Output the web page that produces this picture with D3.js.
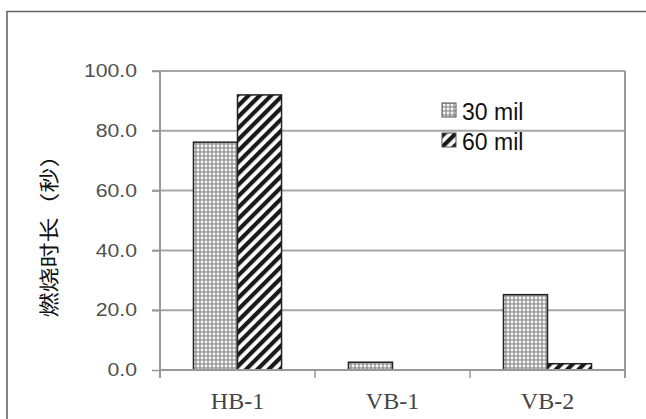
<!DOCTYPE html>
<html><head><meta charset="utf-8">
<script src="https://cdn.jsdelivr.net/npm/d3@7"></script>
<style>html,body{margin:0;padding:0;background:#fff;}svg{display:block;}</style>
</head><body>
<script>
const categories = ["HB-1", "VB-1", "VB-2"];
const seriesNames = ["30 mil", "60 mil"];
const values30 = [76.2, 2.6, 25.2];
const values60 = [92.0, 0.0, 2.1];
const yTicks = [0, 20, 40, 60, 80, 100];
const yTitle = "燃烧时长（秒）";

const W = 646, H = 419;
const svg = d3.select("body").append("svg").attr("width", W).attr("height", H);
const defs = svg.append("defs");

// dotted grid pattern
const p1 = defs.append("pattern").attr("id", "pat30").attr("patternUnits", "userSpaceOnUse")
  .attr("width", 4).attr("height", 4);
p1.append("rect").attr("width", 4).attr("height", 4).attr("fill", "#9a9a9a");
p1.append("circle").attr("cx", 2).attr("cy", 2).attr("r", 1.45).attr("fill", "#f6f6f6");
// diagonal stripes
const p2 = defs.append("pattern").attr("id", "pat60").attr("patternUnits", "userSpaceOnUse")
  .attr("width", 8).attr("height", 8).attr("patternTransform", "rotate(45)");
p2.append("rect").attr("width", 8).attr("height", 8).attr("fill", "#fff");
p2.append("rect").attr("width", 4.2).attr("height", 8).attr("fill", "#1a1a1a");

// outer frame
svg.append("path").attr("d", "M646,11.5H7V419").attr("fill", "none").attr("stroke", "#666").attr("stroke-width", 1.6);

const x0 = 160, x1 = 625, yB = 370, yT = 71;
const x = d3.scaleBand().domain(categories).range([x0, x1]).paddingInner(0).paddingOuter(0);
const xs = d3.scaleBand().domain(seriesNames).range([0, x.bandwidth()]).paddingInner(0).paddingOuter(0.76);
const y = d3.scaleLinear().domain([0, 100]).range([yB, yT]);

// gridlines
svg.append("g").selectAll("line").data(yTicks.filter(d => d > 0)).join("line")
  .attr("x1", x0 - 8).attr("x2", x1).attr("y1", d => y(d)).attr("y2", d => y(d))
  .attr("stroke", "#a6a6a6").attr("stroke-width", 2);

// y axis
const sx = 1.18;
const ya = svg.append("g").attr("transform", `translate(${x0},0)`)
  .call(d3.axisLeft(y).tickValues(yTicks).tickFormat(d3.format(".1f")).tickSize(8).tickPadding(15));
ya.select(".domain").attr("stroke", "#999").attr("stroke-width", 2).attr("d", `M0,${yT}V${yB + 8}`);
ya.selectAll(".tick line").attr("stroke", "#999").attr("stroke-width", 1.5);
ya.selectAll(".tick text").attr("fill", "#505050").attr("font-family", "Liberation Sans, Arial, sans-serif")
  .attr("font-size", 18).attr("x", -23 / sx).attr("transform", `scale(${sx},1)`);

// right border
svg.append("line").attr("x1", x1).attr("x2", x1).attr("y1", yT).attr("y2", yB + 8)
  .attr("stroke", "#999").attr("stroke-width", 2);

// bars
const data = categories.map((c, i) => ({ c, vals: [values30[i], values60[i]] }));
const g = svg.append("g").selectAll("g").data(data).join("g").attr("transform", d => `translate(${x(d.c)},0)`);
g.selectAll("rect").data(d => d.vals.map((v, j) => ({ s: seriesNames[j], v, j }))).join("rect")
  .filter(d => d.v > 0)
  .attr("x", d => xs(d.s)).attr("width", xs.bandwidth())
  .attr("y", d => y(d.v)).attr("height", d => yB - y(d.v))
  .attr("fill", d => d.j === 0 ? "url(#pat30)" : "url(#pat60)")
  .attr("stroke", "#222").attr("stroke-width", 1.5);

// x axis
const xa = svg.append("g").attr("transform", `translate(0,${yB})`)
  .call(d3.axisBottom(x).tickSize(0).tickPadding(22));
xa.select(".domain").attr("stroke", "#999").attr("stroke-width", 2).attr("d", `M${x0},0H${x1}`);
xa.selectAll(".tick text").attr("fill", "#444").attr("font-family", "Liberation Serif, Times New Roman, serif")
  .attr("font-size", 24).attr("dy", "0.71em");
svg.append("g").selectAll("line").data(categories.slice(1)).join("line")
  .attr("x1", d => x(d)).attr("x2", d => x(d)).attr("y1", yB).attr("y2", yB + 8)
  .attr("stroke", "#999").attr("stroke-width", 1.5);

// y title
svg.append("text").attr("transform", "translate(48.5,230) rotate(-90) scale(1.25,1)")
  .attr("text-anchor", "middle").attr("dominant-baseline", "central")
  .attr("font-family", "'Noto Sans CJK SC', sans-serif")
  .attr("font-size", 20).attr("fill", "#111").text(yTitle);

// legend
const lg = svg.append("g").selectAll("g").data(seriesNames).join("g")
  .attr("transform", (d, i) => `translate(442,${103 + i * 30})`);
lg.append("rect").attr("width", 14).attr("height", 14)
  .attr("fill", (d, i) => i === 0 ? "url(#pat30)" : "url(#pat60)")
  .attr("stroke", "#555").attr("stroke-width", 1);
lg.append("text").attr("x", 20).attr("y", 17).attr("font-family", "Liberation Sans, Arial, sans-serif")
  .attr("font-size", 23).attr("fill", "#111").text(d => d);
</script>
</body></html>
